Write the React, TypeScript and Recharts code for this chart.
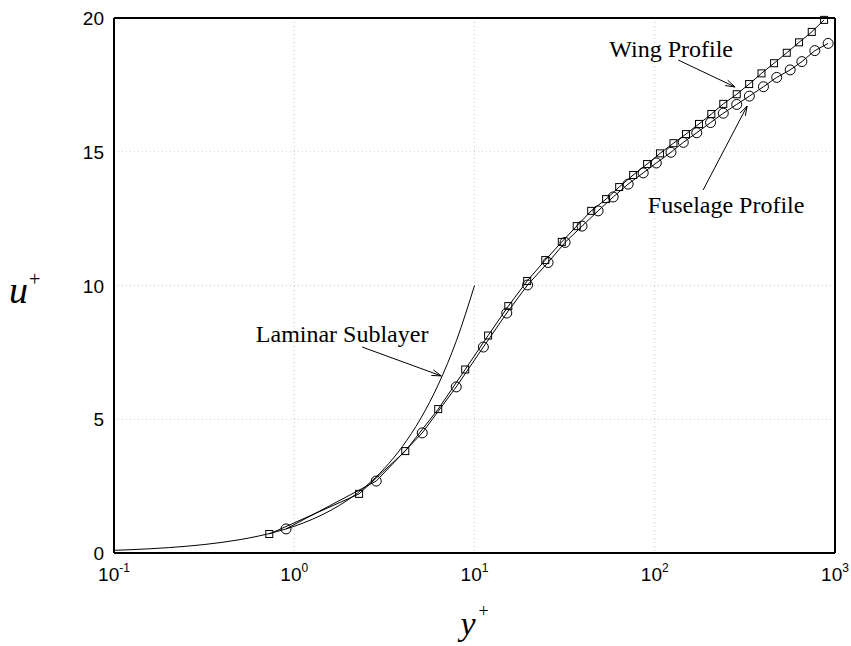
import {
  LineChart,
  Line,
  XAxis,
  YAxis,
  CartesianGrid,
  ReferenceLine,
} from 'recharts'

// wing profile (square markers): y+ and u+
const wingYPlus = [
  0.727, 2.29, 4.13, 6.29, 8.88, 11.9, 15.4, 19.6, 24.7, 30.5, 36.9, 44.4, 53.7, 63.5, 75.9,
  90.7, 107, 127, 149, 176, 206, 240, 285, 334, 391, 459, 540, 632, 743, 870,
]
const wingUPlus = [
  0.71, 2.21, 3.81, 5.38, 6.86, 8.13, 9.23, 10.17, 10.95, 11.63, 12.22, 12.79, 13.23, 13.68, 14.13,
  14.54, 14.94, 15.32, 15.66, 16.04, 16.41, 16.79, 17.15, 17.53, 17.93, 18.31, 18.7, 19.09, 19.48, 19.93,
]

// fuselage profile (circle markers)
const fuselageYPlus = [
  0.9, 2.85, 5.13, 7.92, 11.2, 15.1, 19.7, 25.6, 31.8, 39.5, 48.5, 58.8, 71.2, 86.3, 102,
  123, 144, 171, 204, 240, 285, 335, 401, 475, 564, 655, 773, 916,
]
const fuselageUPlus = [
  0.9, 2.69, 4.49, 6.21, 7.7, 8.97, 10.02, 10.86, 11.61, 12.22, 12.79, 13.31, 13.79, 14.21, 14.58,
  14.98, 15.35, 15.71, 16.09, 16.44, 16.77, 17.08, 17.43, 17.78, 18.06, 18.37, 18.78, 19.05,
]

// laminar sublayer u+ = y+
const laminarYPlus = [
  0.1, 0.126, 0.158, 0.2, 0.251, 0.316, 0.398, 0.501, 0.631, 0.794, 1, 1.26, 1.58, 2, 2.51,
  3.16, 3.98, 5.01, 6.31, 7.94, 10,
]
const laminarUPlus = [
  0.1, 0.126, 0.158, 0.2, 0.251, 0.316, 0.398, 0.501, 0.631, 0.794, 1, 1.26, 1.58, 2, 2.51,
  3.16, 3.98, 5.01, 6.31, 7.94, 10,
]

const xTicks = [0.1, 1, 10, 100, 1000]
const yTicks = [0, 5, 10, 15, 20]

// annotation arrows: start/end in data units, text offset from start in px
const annotations = [
  { text: 'Wing Profile', from: [134.8, 18.43], to: [279, 17.42], dx: -7, dy: -3 },
  { text: 'Fuselage Profile', from: [185.5, 13.57], to: [325.5, 16.71], dx: 23, dy: 23 },
  { text: 'Laminar Sublayer', from: [2.38, 7.7], to: [6.54, 6.62], dx: -20, dy: -5 },
]

const toPoints = (xs: number[], ys: number[]) => xs.map((x, i) => ({ x, u: ys[i] }))

const wingData = toPoints(wingYPlus, wingUPlus)
const fuselageData = toPoints(fuselageYPlus, fuselageUPlus)
const laminarData = toPoints(laminarYPlus, laminarUPlus)

const SANS = 'Liberation Sans, Arial, Helvetica, sans-serif'
const SERIF = 'Liberation Serif, Times New Roman, serif'

const XTick = ({ x, y, payload }: any) => {
  const exp = Math.round(Math.log10(payload.value))
  return (
    <text x={x} y={y + 28} textAnchor="middle" fontFamily={SANS} fontSize={19} fill="#000">
      <tspan>10</tspan>
      <tspan dy={-9} fontSize={12}>{exp}</tspan>
    </text>
  )
}

const YTick = ({ x, y, payload }: any) => (
  <text x={x - 10} y={y + 7} textAnchor="end" fontFamily={SANS} fontSize={19} fill="#000">
    {payload.value}
  </text>
)

const squareDot = (props: any) => {
  const { cx, cy, index } = props
  return (
    <rect key={`sq-${index}`} x={cx - 3.5} y={cy - 3.5} width={7} height={7} fill="none" stroke="#000" strokeWidth={1} />
  )
}

const circleDot = (props: any) => {
  const { cx, cy, index } = props
  return <circle key={`ci-${index}`} cx={cx} cy={cy} r={5} fill="none" stroke="#000" strokeWidth={1} />
}

const arrowShape = (text: string, dx: number, dy: number) => (props: any) => {
  const { x1, y1, x2, y2 } = props
  const ang = Math.atan2(y2 - y1, x2 - x1)
  const len = 10
  const spread = 0.3
  const ax = x2 - len * Math.cos(ang - spread)
  const ay = y2 - len * Math.sin(ang - spread)
  const bx = x2 - len * Math.cos(ang + spread)
  const by = y2 - len * Math.sin(ang + spread)
  return (
    <g>
      <line x1={x1} y1={y1} x2={x2} y2={y2} stroke="#000" strokeWidth={1} />
      <polyline points={`${ax},${ay} ${x2},${y2} ${bx},${by}`} fill="none" stroke="#000" strokeWidth={1} />
      <text x={x1 + dx} y={y1 + dy} textAnchor="middle" fontFamily={SERIF} fontSize={24} fill="#000">
        {text}
      </text>
    </g>
  )
}

const XLabel = ({ viewBox }: any) => (
  <text x={viewBox.x + viewBox.width / 2 - 14} y={635} fontFamily={SERIF} fontStyle="italic" fontSize={34} fill="#000">
    y<tspan dx={3} dy={-18} fontSize={18} fontStyle="normal">+</tspan>
  </text>
)

const YLabel = () => (
  <text x={9} y={303} fontFamily={SERIF} fontStyle="italic" fontSize={38} fill="#000">
    u<tspan dx={1} dy={-17} fontSize={20} fontStyle="normal">+</tspan>
  </text>
)

export default function App() {
  return (
    <div style={{ position: 'absolute', left: 0, top: 0, width: 851, height: 646, background: '#fff' }}>
      <LineChart width={851} height={646} margin={{ top: 18, right: 16, bottom: 53, left: 54 }}>
        <CartesianGrid stroke="#c8c8c8" strokeDasharray="1 3" />
        <XAxis
          type="number"
          dataKey="x"
          scale="log"
          domain={[0.1, 1000]}
          ticks={xTicks}
          allowDataOverflow
          height={40}
          tickSize={0}
          tickMargin={0}
          tick={<XTick />}
          axisLine={{ stroke: '#000', strokeWidth: 2 }}
          label={<XLabel />}
        />
        <YAxis
          type="number"
          dataKey="u"
          domain={[0, 20]}
          ticks={yTicks}
          width={60}
          tickSize={0}
          tickMargin={0}
          tick={<YTick />}
          axisLine={{ stroke: '#000', strokeWidth: 2 }}
          label={<YLabel />}
        />
        <ReferenceLine y={20} stroke="#000" strokeWidth={2} />
        <ReferenceLine x={1000} stroke="#000" strokeWidth={2} />

        <Line
          data={laminarData}
          dataKey="u"
          type="monotone"
          stroke="#000"
          strokeWidth={1}
          dot={false}
          isAnimationActive={false}
        />
        <Line
          data={fuselageData}
          dataKey="u"
          type="linear"
          stroke="#000"
          strokeWidth={1}
          dot={circleDot}
          isAnimationActive={false}
        />
        <Line
          data={wingData}
          dataKey="u"
          type="linear"
          stroke="#000"
          strokeWidth={1}
          dot={squareDot}
          isAnimationActive={false}
        />

        {annotations.map((a) => (
          <ReferenceLine
            key={a.text}
            segment={[
              { x: a.from[0], y: a.from[1] },
              { x: a.to[0], y: a.to[1] },
            ]}
            shape={arrowShape(a.text, a.dx, a.dy)}
          />
        ))}
      </LineChart>
    </div>
  )
}
